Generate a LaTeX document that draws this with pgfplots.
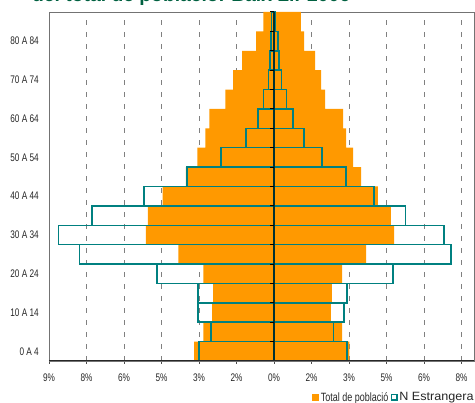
\documentclass[border=0pt]{standalone}
\usepackage{fontspec}
\setmainfont{Liberation Sans}[FakeStretch=0.75]
\newfontfamily\titlefont{Liberation Sans}
\usepackage{graphicx}
\usepackage{pgfplots}
\usepackage{pgfplotstable}
\pgfplotsset{compat=1.18}
\definecolor{orangec}{RGB}{255,153,0}
\definecolor{tealc}{RGB}{0,128,128}
\definecolor{titlegreen}{RGB}{0,96,64}
\definecolor{axisdark}{RGB}{0,50,50}

% y = age group index (0 = 0 A 4 ... 17 = 85+)
% tl/tr = total de poblacio (left negative / right), fl/fr = estrangera
\pgfplotstableread{
y  tl     tr    fl     fr
0  -3.20  3.01  -3.00  2.91
1  -2.83  2.72  -2.53  2.37
2  -2.48  2.27  -3.04  2.80
3  -2.44  2.31  -3.04  2.91
4  -2.83  2.72  -4.67  4.75
5  -3.83  3.68  -7.77  7.07
6  -5.12  4.80  -8.61  6.80
7  -5.04  4.67  -7.28  5.25
8  -4.45  4.15  -5.20  4.00
9  -3.53  3.48  -3.49  2.87
10 -3.07  3.16  -2.13  1.92
11 -2.75  2.88  -1.13  1.20
12 -2.59  2.76  -0.65  0.75
13 -1.95  2.04  -0.43  0.49
14 -1.64  1.88  -0.23  0.29
15 -1.28  1.64  -0.16  0.20
16 -0.72  1.20  -0.13  0.15
17 -0.43  1.07  -0.10  0.05
}\pyramid

\begin{document}
\begin{tikzpicture}
\begin{axis}[
  at={(0pt,0pt)}, anchor=south west,
  width=425pt, height=349pt, scale only axis,
  xmin=-9, xmax=8, ymin=-0.5, ymax=17.5,
  xtick={-9,-7.5,-6,-4.5,-3,-1.5,0,1.5,3,4.5,6,7.5},
  xticklabels={9\%,8\%,6\%,5\%,3\%,2\%,0\%,2\%,3\%,5\%,6\%,8\%},
  ytick={0,2,...,16},
  yticklabels={0 A 4,10 A 14,20 A 24,30 A 34,40 A 44,50 A 54,60 A 64,70 A 74,80 A 84},
  xmajorgrids,
  grid style={draw=black!50, dash pattern=on 5pt off 7pt, line width=0.8pt},
  axis line style={draw=black!55, line width=0.8pt},
  tick align=outside,
  xtick pos=lower,
  major tick length=3pt,
  xtick style={draw=black!70, line width=0.8pt},
  ytick style={draw=none},
  tick label style={font=\fontsize{11}{12}\selectfont, text=black!85},
  xticklabel style={anchor=north, inner sep=0pt, yshift=-9.5pt},
  yticklabel style={anchor=east, inner sep=0pt, xshift=-7pt},
  legend columns=2,
  legend style={at={(rel axis cs:0.619,-0.1046)}, anchor=west, draw=none, fill=none,
    inner sep=0pt, font=\fontsize{12}{13}\selectfont,
    nodes={inner sep=1.5pt, text=black!85},
    /tikz/every even column/.append style={column sep=1pt}},
]
\addplot[xbar, bar width=1, bar shift=0pt, fill=orangec, draw=none, forget plot]
  table[x=tl, y=y] {\pyramid};
\addplot[xbar, bar width=1, bar shift=0pt, fill=orangec, draw=none,
  legend image code/.code={\fill[orangec] (0pt,-3.5pt) rectangle (7pt,3.5pt);}]
  table[x=tr, y=y] {\pyramid};
\addlegendentry{Total de població}
\addplot[xbar, bar width=1, bar shift=0pt, fill=none, draw=tealc, line width=1.5pt, forget plot]
  table[x=fl, y=y] {\pyramid};
\addplot[xbar, bar width=1, bar shift=0pt, fill=none, draw=tealc, line width=1.5pt,
  legend image code/.code={\draw[tealc, line width=1.5pt] (0.75pt,-2.75pt) rectangle (6.25pt,2.75pt);}]
  table[x=fr, y=y] {\pyramid};
\addlegendentry{\scalebox{1.4}[1]{N Estrangera}}
% zero axis and its ticks
\draw[axisdark, line width=2pt] (axis cs:0,-0.5) -- (axis cs:0,17.5);
\pgfplotsinvokeforeach{-0.5,0.5,1.5,2.5,3.5,4.5,5.5,6.5,7.5,8.5,9.5,10.5,11.5,12.5,13.5,14.5,15.5,16.5,17.5}{
  \draw[black, line width=1pt] (axis cs:-0.16,#1) -- (axis cs:0,#1);
}
\draw[black!85, line width=1pt] (rel axis cs:0,0) -- (rel axis cs:1,0);
\end{axis}
\node[anchor=base west, inner sep=0pt, text=titlegreen,
  font=\titlefont\bfseries\fontsize{19.3}{20}\selectfont] at (-17pt,359.3pt)
  {del total de població. Baix Ll. 2006};
\pgfresetboundingbox
\path[use as bounding box] (-49pt,-42pt) rectangle (426pt,361pt);
\end{tikzpicture}
\end{document}
